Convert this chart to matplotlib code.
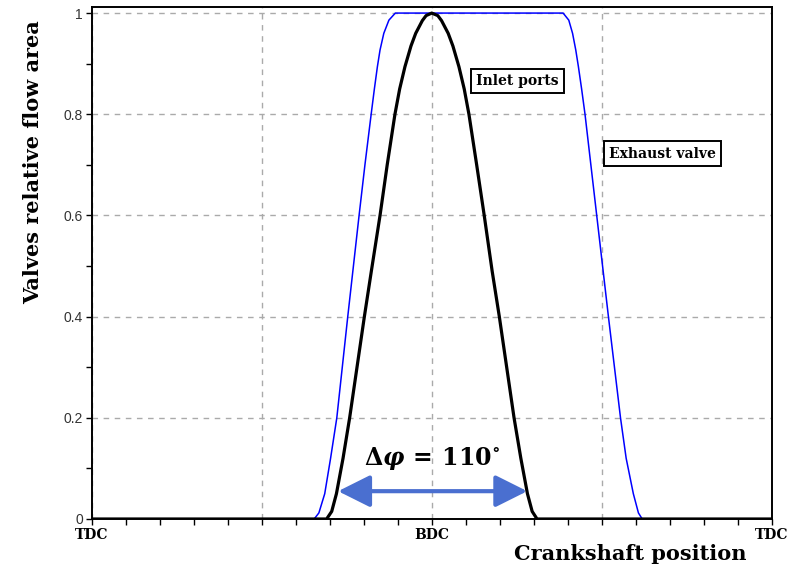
import matplotlib
matplotlib.use("Agg")
import matplotlib.pyplot as plt
from matplotlib.ticker import MultipleLocator, FixedLocator

plt.rcParams['mathtext.fontset'] = 'custom'
plt.rcParams['mathtext.rm'] = 'DejaVu Serif:bold'
plt.rcParams['mathtext.it'] = 'DejaVu Serif:italic:bold'
plt.rcParams['mathtext.bf'] = 'DejaVu Serif:bold'

# ---- data (crank angle in degrees from TDC, relative flow area) ----
inlet_deg = [0, 124.3, 127.0, 129.5, 133.0, 136.5, 140.4, 144.3, 148.0, 152.6, 156.4,
             160.5, 163.0, 165.8, 169.0, 171.5, 175.0, 177.0, 180.0, 183.2, 185.2,
             188.7, 191.2, 194.4, 197.2, 199.7, 203.8, 207.8, 212.0, 215.8, 219.7,
             223.6, 227.2, 230.7, 233.2, 235.8, 360]
inlet_area = [0, 0, 0.015, 0.05, 0.12, 0.2, 0.3, 0.4, 0.49, 0.6, 0.7,
              0.8, 0.85, 0.894, 0.935, 0.96, 0.985, 0.995, 1.0, 0.995, 0.985,
              0.96, 0.935, 0.894, 0.85, 0.8, 0.7, 0.6, 0.49, 0.4, 0.3,
              0.2, 0.12, 0.05, 0.015, 0, 0]

exhaust_deg = [0, 117.7, 120.2, 123.3, 126.4, 129.7, 132.6, 135.5, 138.5, 141.5, 144.6,
               147.9, 149.6, 151.2, 152.6, 154.6, 157.3, 160.7, 249.6, 252.6, 254.6,
               256.3, 257.7, 259.4, 261.2, 264.3, 267.4, 270.5, 273.6, 276.8, 280.0,
               283.0, 286.8, 289.5, 291.5, 360]
exhaust_area = [0, 0, 0.012, 0.05, 0.12, 0.2, 0.3, 0.4, 0.5, 0.6, 0.7,
                0.8, 0.85, 0.894, 0.927, 0.96, 0.986, 1.0, 1.0, 0.986, 0.96,
                0.927, 0.894, 0.85, 0.8, 0.7, 0.6, 0.5, 0.4, 0.3, 0.2,
                0.12, 0.05, 0.012, 0, 0]

x_major = [0, 90, 180, 270, 360]
x_labels = ['TDC', '', 'BDC', '', 'TDC']
y_major = [0, 0.2, 0.4, 0.6, 0.8, 1.0]
y_labels = ['0', '0.2', '0.4', '0.6', '0.8', '1']

arrow_start, arrow_end, arrow_level = 130.4, 230.6, 0.055
delta_label = r'$\Delta\varphi\,=\,110^{\circ}$'

# ---- figure ----
fig = plt.figure(figsize=(8.02, 5.70), dpi=100)
ax = fig.add_axes([92/802, 1-519/570, (771.5-92)/802, (519-7)/570])

ax.set_xlim(0, 360)
ax.set_ylim(0, 1.012)

ax.plot(exhaust_deg, exhaust_area, color='#0000ff', lw=1.1, zorder=3,
        solid_joinstyle='round')
ax.plot(inlet_deg, inlet_area, color='black', lw=2.3, zorder=4,
        solid_joinstyle='round')

ax.xaxis.set_major_locator(FixedLocator(x_major))
ax.set_xticklabels(x_labels, fontfamily='DejaVu Serif', fontweight='bold', fontsize=10)
ax.xaxis.set_minor_locator(MultipleLocator(18))
ax.yaxis.set_major_locator(FixedLocator(y_major))
ax.set_yticklabels(y_labels, fontfamily='Liberation Sans', fontsize=10, color='#333333')
ax.yaxis.set_minor_locator(MultipleLocator(0.1))

ax.tick_params(axis='both', which='both', direction='out', length=4.5, width=1.0,
               top=False, right=False)
ax.tick_params(axis='x', which='major', pad=2)
ax.tick_params(axis='y', which='major', pad=2)

ax.grid(True, which='major', color='#aaaaaa', linestyle=(0, (4, 4)), linewidth=1.0)
ax.set_axisbelow(True)
for s in ax.spines.values():
    s.set_linewidth(1.4)
    s.set_color('black')

# annotation boxes
box = dict(boxstyle='square,pad=0.38', fc='white', ec='black', lw=1.4)
ax.text(225.3, 0.866, 'Inlet ports', fontfamily='DejaVu Serif', fontweight='bold',
        fontsize=10, ha='center', va='center', bbox=box, zorder=5)
ax.text(302.2, 0.722, 'Exhaust valve', fontfamily='DejaVu Serif', fontweight='bold',
        fontsize=10, ha='center', va='center', bbox=box, zorder=5)

# double arrow
ax.annotate('', xy=(arrow_end, arrow_level), xytext=(arrow_start, arrow_level),
            arrowprops=dict(arrowstyle='<|-|>,head_length=1.4,head_width=0.7',
                            color='#4a6fd0', lw=3, mutation_scale=14,
                            shrinkA=0, shrinkB=0), zorder=6)
ax.text(180, 0.12, delta_label, fontsize=17, ha='center', va='center', zorder=6)

# axis labels
fig.text(33/802, 1-162/570, 'Valves relative flow area', rotation=90,
         fontfamily='DejaVu Serif', fontweight='bold', fontsize=15,
         ha='center', va='center')
fig.text(630/802, 1-554/570, 'Crankshaft position', fontfamily='DejaVu Serif',
         fontweight='bold', fontsize=15, ha='center', va='center')

fig.savefig('out.png', dpi=100)
